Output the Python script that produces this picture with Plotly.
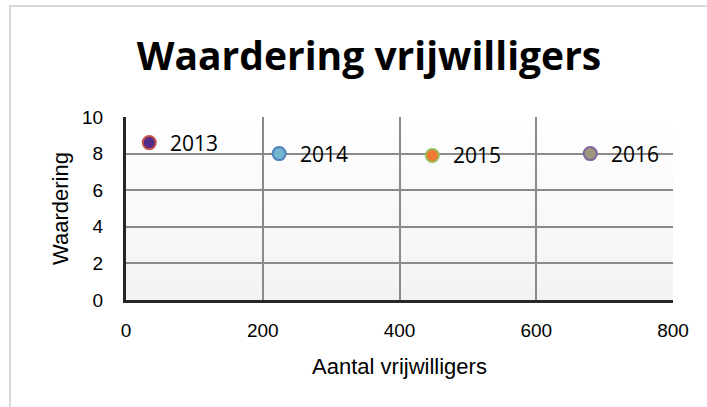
import plotly.graph_objects as go

# Data
years = ["2013", "2014", "2015", "2016"]
volunteers = [34, 224, 448, 679]
rating = [8.6, 8.0, 7.9, 8.0]
fill_colors = ["#512C8A", "#74B6D0", "#EE7A35", "#9A997C"]
edge_colors = ["#C0504D", "#4F81BD", "#9BBB59", "#8064A2"]

x_ticks = [0, 200, 400, 600, 800]
y_ticks = [0, 2, 4, 6, 8, 10]

fig = go.Figure()
for i, yr in enumerate(years):
    fig.add_trace(go.Scatter(
        x=[volunteers[i]], y=[rating[i]], mode="markers", name=yr,
        marker=dict(size=13, color=fill_colors[i],
                    line=dict(color=edge_colors[i], width=2)),
        showlegend=False, hoverinfo="skip"))

annotations = []
for i, yr in enumerate(years):
    annotations.append(dict(x=volunteers[i], y=rating[i], xref="x", yref="y",
                            text=yr, showarrow=False, xanchor="left",
                            yanchor="middle", xshift=19,
                            font=dict(family="Open Sans", size=21, color="#000")))

# background gradient bands (styling)
shapes = []
n = 20
for k in range(n):
    t = k / (n - 1)
    c = int(243 + (255 - 243) * t)
    shapes.append(dict(type="rect", xref="paper", yref="paper",
                       x0=0, x1=1, y0=k / n, y1=(k + 1) / n,
                       fillcolor=f"rgb({c},{c},{c})", line=dict(width=0),
                       layer="below"))
# outer chart border
shapes.append(dict(type="rect", xref="paper", yref="paper",
                   x0=-0.212, x1=1.2, y0=-0.8, y1=1.607,
                   line=dict(color="#d9d9d9", width=2), fillcolor="rgba(0,0,0,0)"))

fig.update_layout(
    width=707, height=407,
    margin=dict(l=126, r=34, t=117, b=107),
    paper_bgcolor="white", plot_bgcolor="rgba(0,0,0,0)",
    title=dict(text="<b>Waardering vrijwilligers</b>", x=369 / 707, xref="container",
               xanchor="center", y=1 - 56 / 407, yref="container", yanchor="middle",
               font=dict(family="Open Sans", size=39, color="#000")),
    xaxis=dict(range=[0, 800], tickvals=x_ticks, showgrid=True,
               gridcolor="#8a8a8a", gridwidth=1.5, zeroline=False,
               showline=True, linecolor="#262626", linewidth=3,
               ticks="outside", ticklen=11, tickcolor="rgba(0,0,0,0)",
               tickfont=dict(family="Liberation Sans", size=19, color="#000"),
               title=dict(text="Aantal vrijwilligers", standoff=19,
                          font=dict(family="Liberation Sans", size=22, color="#000"))),
    yaxis=dict(range=[0, 10], tickvals=y_ticks, showgrid=True,
               gridcolor="#8a8a8a", gridwidth=1.5, zeroline=False,
               showline=True, linecolor="#262626", linewidth=3,
               ticks="outside", ticklen=16, tickcolor="rgba(0,0,0,0)",
               tickfont=dict(family="Liberation Sans", size=19, color="#000"),
               title=dict(text="Waardering", standoff=8,
                          font=dict(family="Liberation Sans", size=22, color="#000"))),
    shapes=shapes, annotations=annotations,
)

fig.write_html("out.html", config={"displayModeBar": False},
               post_script="document.body.style.margin='0px';")
